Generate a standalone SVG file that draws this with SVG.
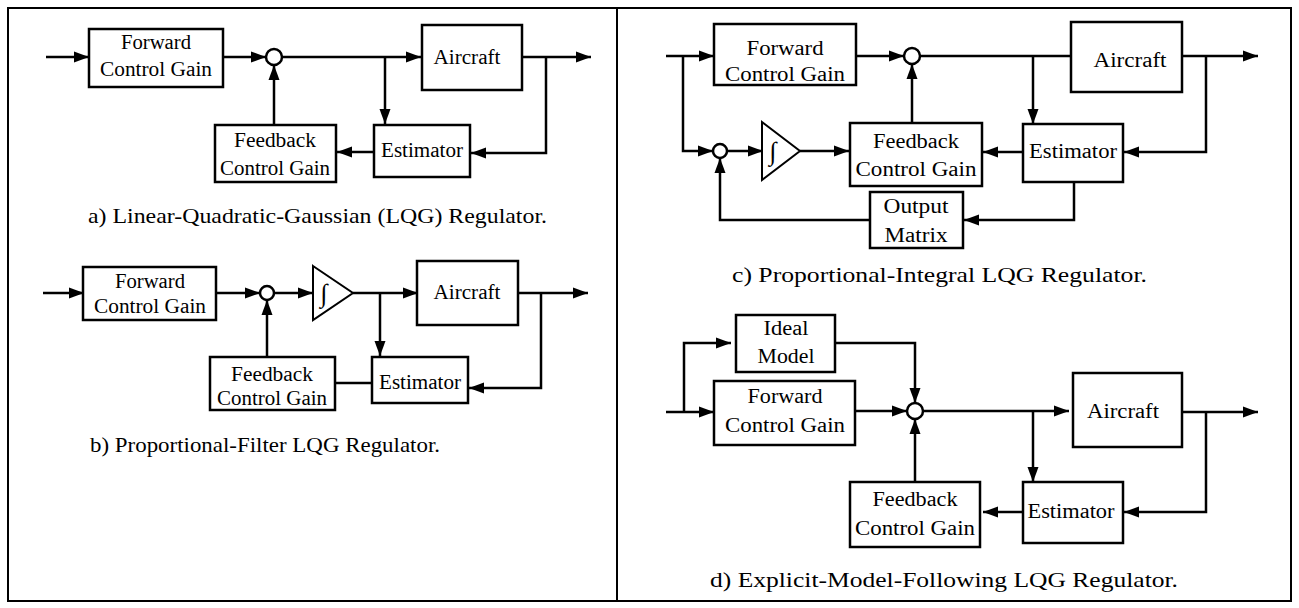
<svg xmlns="http://www.w3.org/2000/svg" width="1299" height="608" viewBox="0 0 1299 608" font-family="'Liberation Serif', 'DejaVu Serif', serif">
  <style>
    .box { fill: #fff; stroke: #000; stroke-width: 2.5; }
    .sum { fill: #fff; stroke: #000; stroke-width: 2.5; }
    .tri { fill: #fff; stroke: #000; stroke-width: 2; stroke-linejoin: miter; }
    .wire { fill: none; stroke: #000; stroke-width: 2.5; }
    .arr { marker-end: url(#head); }
    text { font-family: 'Liberation Serif', 'DejaVu Serif', serif; fill: #000; }
    .lbl { font-size: 20px; text-anchor: middle; }
    .cap { font-size: 22px; }
    .int { font-size: 26px; text-anchor: middle; }
  </style>
  <defs>
    <marker id="head" markerUnits="userSpaceOnUse" markerWidth="16" markerHeight="12" refX="15" refY="6" orient="auto">
      <path d="M0,0.5 L15,6 L0,11.5 Z" fill="#000"/>
    </marker>
  </defs>

  <rect width="1299" height="608" fill="#fff"/>
  <!-- outer frame and panel divider -->
  <rect x="8" y="8" width="1283" height="593" fill="none" stroke="#000" stroke-width="2"/>
  <line x1="617" y1="8" x2="617" y2="601" stroke="#000" stroke-width="2"/>

  <g id="connectors">
    <!-- a) LQG -->
    <path class="wire arr" d="M46,57 H89"/>
    <path class="wire arr" d="M223,57 H266"/>
    <path class="wire arr" d="M282,57 H421"/>
    <path class="wire arr" d="M385,57 V124"/>
    <path class="wire arr" d="M522,57 H591"/>
    <path class="wire arr" d="M546,57 V153 H471"/>
    <path class="wire arr" d="M374,152 H337"/>
    <path class="wire arr" d="M274,125 V65"/>
    <!-- b) proportional-filter -->
    <path class="wire arr" d="M43,293 H84"/>
    <path class="wire arr" d="M216,293 H260"/>
    <path class="wire arr" d="M274,293 H313"/>
    <path class="wire arr" d="M353,293 H418"/>
    <path class="wire arr" d="M380,293 V356"/>
    <path class="wire arr" d="M518,293 H588"/>
    <path class="wire arr" d="M541,293 V388 H469"/>
    <path class="wire" d="M372,383 H335"/>
    <path class="wire arr" d="M267,357 V300"/>
    <!-- c) proportional-integral -->
    <path class="wire arr" d="M666,56 H714"/>
    <path class="wire arr" d="M683,56 V151 H713"/>
    <path class="wire arr" d="M856,56 H904"/>
    <path class="wire" d="M920,56 H1071"/>
    <path class="wire arr" d="M1033,56 V124"/>
    <path class="wire arr" d="M1182,56 H1258"/>
    <path class="wire arr" d="M1206,56 V152 H1124"/>
    <path class="wire arr" d="M1023,152 H983"/>
    <path class="wire arr" d="M912,123 V64"/>
    <path class="wire arr" d="M727,151 H763"/>
    <path class="wire arr" d="M800,151 H849"/>
    <path class="wire arr" d="M1074,182 V220 H964"/>
    <path class="wire arr" d="M870,220 H720 V158"/>
    <!-- d) explicit model following -->
    <path class="wire arr" d="M666,412 H714"/>
    <path class="wire arr" d="M684,412 V343 H731"/>
    <path class="wire arr" d="M835,343 H915 V403"/>
    <path class="wire arr" d="M855,411 H907"/>
    <path class="wire arr" d="M923,411 H1069"/>
    <path class="wire arr" d="M1033,411 V482"/>
    <path class="wire arr" d="M1182,412 H1258"/>
    <path class="wire arr" d="M1206,412 V512 H1124"/>
    <path class="wire arr" d="M1023,512 H983"/>
    <path class="wire arr" d="M915,482 V419"/>
  </g>

  <!-- a) Linear-Quadratic-Gaussian regulator -->
  <g id="a-forward">
    <rect class="box" x="89" y="29" width="134" height="58"/>
    <text class="lbl" x="156" y="49" textLength="70" lengthAdjust="spacingAndGlyphs">Forward</text>
    <text class="lbl" x="156" y="76" textLength="112" lengthAdjust="spacingAndGlyphs">Control Gain</text>
  </g>
  <g id="a-sum"><circle class="sum" cx="274" cy="57" r="8"/></g>
  <g id="a-aircraft">
    <rect class="box" x="422" y="25" width="100" height="65"/>
    <text class="lbl" x="467" y="64" textLength="67" lengthAdjust="spacingAndGlyphs">Aircraft</text>
  </g>
  <g id="a-feedback">
    <rect class="box" x="215" y="125" width="121" height="57"/>
    <text class="lbl" x="275" y="147" textLength="82" lengthAdjust="spacingAndGlyphs">Feedback</text>
    <text class="lbl" x="275" y="175" textLength="110" lengthAdjust="spacingAndGlyphs">Control Gain</text>
  </g>
  <g id="a-estimator">
    <rect class="box" x="374" y="125" width="96" height="52"/>
    <text class="lbl" x="422" y="157" textLength="82" lengthAdjust="spacingAndGlyphs">Estimator</text>
  </g>
  <text class="cap" x="88" y="223" textLength="459" lengthAdjust="spacingAndGlyphs">a) Linear-Quadratic-Gaussian (LQG) Regulator.</text>

  <!-- b) Proportional-Filter regulator -->
  <g id="b-forward">
    <rect class="box" x="83" y="267" width="133" height="53"/>
    <text class="lbl" x="150" y="288" textLength="70" lengthAdjust="spacingAndGlyphs">Forward</text>
    <text class="lbl" x="150" y="313" textLength="112" lengthAdjust="spacingAndGlyphs">Control Gain</text>
  </g>
  <g id="b-sum"><circle class="sum" cx="267" cy="293" r="7"/></g>
  <g id="b-integrator">
    <path class="tri" d="M313,266 L353,293 L313,320 Z"/>
    <text class="int" x="324" y="302">∫</text>
  </g>
  <g id="b-aircraft">
    <rect class="box" x="417" y="261" width="101" height="64"/>
    <text class="lbl" x="467" y="299" textLength="67" lengthAdjust="spacingAndGlyphs">Aircraft</text>
  </g>
  <g id="b-feedback">
    <rect class="box" x="210" y="357" width="125" height="53"/>
    <text class="lbl" x="272" y="381" textLength="82" lengthAdjust="spacingAndGlyphs">Feedback</text>
    <text class="lbl" x="272" y="405" textLength="110" lengthAdjust="spacingAndGlyphs">Control Gain</text>
  </g>
  <g id="b-estimator">
    <rect class="box" x="372" y="357" width="96" height="46"/>
    <text class="lbl" x="420" y="389" textLength="82" lengthAdjust="spacingAndGlyphs">Estimator</text>
  </g>
  <text class="cap" x="90" y="452" textLength="350" lengthAdjust="spacingAndGlyphs">b) Proportional-Filter LQG Regulator.</text>

  <!-- c) Proportional-Integral regulator -->
  <g id="c-forward">
    <rect class="box" x="714" y="24" width="142" height="61"/>
    <text class="lbl" x="785" y="55" textLength="77" lengthAdjust="spacingAndGlyphs">Forward</text>
    <text class="lbl" x="785" y="81" textLength="120" lengthAdjust="spacingAndGlyphs">Control Gain</text>
  </g>
  <g id="c-sum"><circle class="sum" cx="912" cy="56" r="8"/></g>
  <g id="c-aircraft">
    <rect class="box" x="1071" y="22" width="111" height="70"/>
    <text class="lbl" x="1130" y="67" textLength="73" lengthAdjust="spacingAndGlyphs">Aircraft</text>
  </g>
  <g id="c-sum2"><circle class="sum" cx="720" cy="151" r="7"/></g>
  <g id="c-integrator">
    <path class="tri" d="M762,122 L800,151 L762,180 Z"/>
    <text class="int" x="773" y="160">∫</text>
  </g>
  <g id="c-feedback">
    <rect class="box" x="850" y="123" width="132" height="63"/>
    <text class="lbl" x="916" y="148" textLength="86" lengthAdjust="spacingAndGlyphs">Feedback</text>
    <text class="lbl" x="916" y="176" textLength="121" lengthAdjust="spacingAndGlyphs">Control Gain</text>
  </g>
  <g id="c-estimator">
    <rect class="box" x="1023" y="124" width="100" height="58"/>
    <text class="lbl" x="1073" y="158" textLength="88" lengthAdjust="spacingAndGlyphs">Estimator</text>
  </g>
  <g id="c-output">
    <rect class="box" x="870" y="192" width="93" height="56"/>
    <text class="lbl" x="916" y="213" textLength="65" lengthAdjust="spacingAndGlyphs">Output</text>
    <text class="lbl" x="916" y="242" textLength="63" lengthAdjust="spacingAndGlyphs">Matrix</text>
  </g>
  <text class="cap" x="732" y="282" textLength="415" lengthAdjust="spacingAndGlyphs">c) Proportional-Integral LQG Regulator.</text>

  <!-- d) Explicit-Model-Following regulator -->
  <g id="d-ideal">
    <rect class="box" x="736" y="315" width="99" height="57"/>
    <text class="lbl" x="786" y="335" textLength="45" lengthAdjust="spacingAndGlyphs">Ideal</text>
    <text class="lbl" x="786" y="363" textLength="57" lengthAdjust="spacingAndGlyphs">Model</text>
  </g>
  <g id="d-forward">
    <rect class="box" x="714" y="381" width="141" height="64"/>
    <text class="lbl" x="785" y="403" textLength="75" lengthAdjust="spacingAndGlyphs">Forward</text>
    <text class="lbl" x="785" y="432" textLength="120" lengthAdjust="spacingAndGlyphs">Control Gain</text>
  </g>
  <g id="d-sum"><circle class="sum" cx="915" cy="411" r="8"/></g>
  <g id="d-aircraft">
    <rect class="box" x="1073" y="373" width="109" height="74"/>
    <text class="lbl" x="1123" y="418" textLength="72" lengthAdjust="spacingAndGlyphs">Aircraft</text>
  </g>
  <g id="d-feedback">
    <rect class="box" x="850" y="482" width="130" height="65"/>
    <text class="lbl" x="915" y="506" textLength="85" lengthAdjust="spacingAndGlyphs">Feedback</text>
    <text class="lbl" x="915" y="535" textLength="120" lengthAdjust="spacingAndGlyphs">Control Gain</text>
  </g>
  <g id="d-estimator">
    <rect class="box" x="1023" y="482" width="100" height="61"/>
    <text class="lbl" x="1071" y="518" textLength="87" lengthAdjust="spacingAndGlyphs">Estimator</text>
  </g>
  <text class="cap" x="710" y="587" textLength="468" lengthAdjust="spacingAndGlyphs">d) Explicit-Model-Following LQG Regulator.</text>
</svg>
